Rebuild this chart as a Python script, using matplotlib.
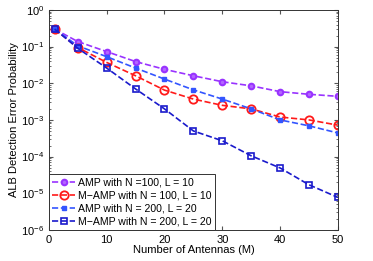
import matplotlib
matplotlib.use('Agg')
import matplotlib.pyplot as plt
from matplotlib.ticker import LogLocator, NullFormatter

# antenas y probabilidades de error
M = [1, 5, 10, 15, 20, 25, 30, 35, 40, 45, 50]
amp_100 = [0.30, 0.137, 0.073, 0.039, 0.024, 0.016, 0.011, 0.0085, 0.0059, 0.0050, 0.0044]
mamp_100 = [0.30, 0.094, 0.037, 0.016, 0.0065, 0.0037, 0.0025, 0.0020, 0.0012, 0.0010, 0.00072]
amp_200 = [0.30, 0.105, 0.053, 0.026, 0.013, 0.0066, 0.0037, 0.0020, 0.0010, 0.00069, 0.00044]
mamp_200 = [0.30, 0.090, 0.026, 0.0070, 0.0020, 0.00050, 0.00027, 0.000105, 0.000049, 0.000017, 0.0000077]

etiquetas = ['AMP with N =100, L = 10', 'M\u2212AMP with N = 100, L = 10',
             'AMP with N = 200, L = 20', 'M\u2212AMP with N = 200, L = 20']

plt.rcParams['font.family'] = ['Liberation Sans', 'DejaVu Sans']
fig = plt.figure(figsize=(3.73, 2.61), dpi=100)
ax = fig.add_axes([0.131, 0.119, 0.775, 0.843])

ax.semilogy(M, amp_100, '--o', color='#9933ff', ms=4, mfc='#b366ff', mew=1.5, lw=1.2, label=etiquetas[0])
ax.semilogy(M, mamp_100, '--o', color='#ff1a1a', ms=6, mfc='none', mew=1.3, lw=1.2, label=etiquetas[1])
ax.semilogy(M, amp_200, '--s', color='#3355ff', ms=3.5, mfc='#3355ff', mew=1, lw=1.2, label=etiquetas[2])
ax.semilogy(M, mamp_200, '--s', color='#1a1acc', ms=4.5, mfc='none', mew=1.2, lw=1.2, label=etiquetas[3])

ax.set_xlim(0, 50)
ax.set_ylim(1e-6, 1)
ax.set_xticks([0, 10, 20, 30, 40, 50])
ax.yaxis.set_major_locator(LogLocator(base=10, numticks=10))
ax.yaxis.set_minor_locator(LogLocator(base=10, subs=range(2, 10), numticks=20))
ax.yaxis.set_minor_formatter(NullFormatter())
ax.tick_params(which='both', direction='in', top=True, right=True, labelsize=8, color='#555555')
ax.tick_params(which='major', length=3)
ax.tick_params(which='minor', length=1.5)
for s in ax.spines.values():
    s.set_linewidth(0.7)
    s.set_color('#333333')

ax.set_xlabel('Number of Antennas (M)', fontsize=8, labelpad=0)
ax.set_ylabel('ALB Detection Error Probability', fontsize=8, labelpad=1)

leg = ax.legend(loc='lower left', fontsize=7.6, fancybox=False, framealpha=1, edgecolor='#333333',
                borderpad=0.3, labelspacing=0.3, handlelength=2.2, handletextpad=0.3, borderaxespad=0)
leg.get_frame().set_linewidth(0.7)

fig.savefig('out.png', dpi=100)
